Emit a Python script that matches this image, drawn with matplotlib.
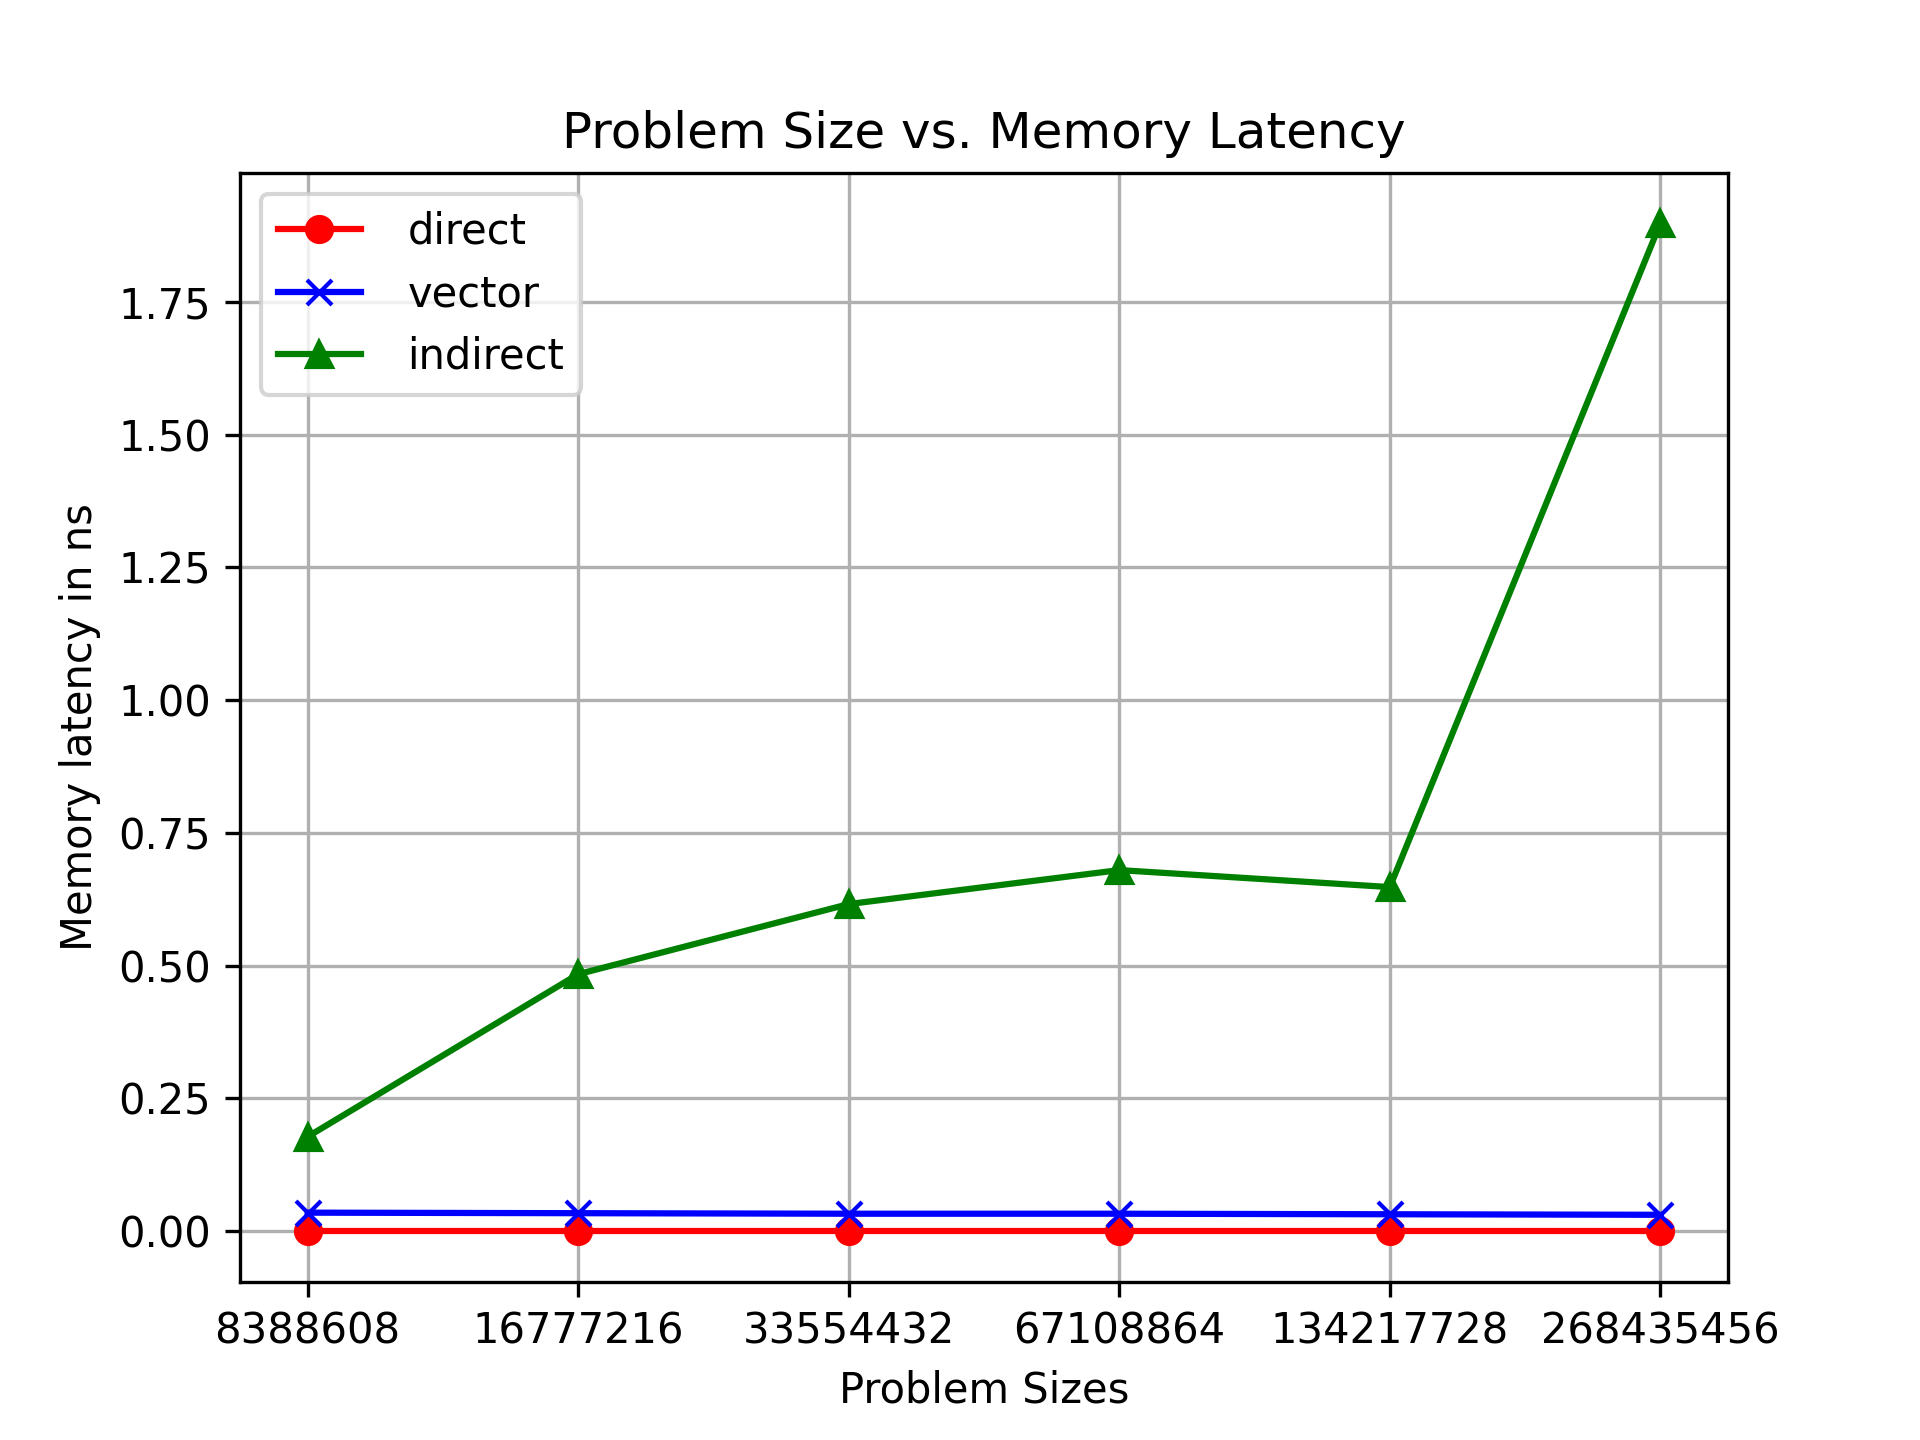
import matplotlib
matplotlib.use("Agg")
import matplotlib.pyplot as plt

sizes = ["8388608", "16777216", "33554432", "67108864", "134217728", "268435456"]
direct = [0.0001, 0.0001, 0.0001, 0.0001, 0.0001, 0.0001]
vector = [0.035, 0.034, 0.033, 0.033, 0.032, 0.031]
indirect = [0.178, 0.484, 0.616, 0.680, 0.648, 1.898]

fig, ax = plt.subplots(figsize=(6.4, 4.8), dpi=300)
ax.plot(sizes, direct, color="red", marker="o", label="direct")
ax.plot(sizes, vector, color="blue", marker="x", label="vector")
ax.plot(sizes, indirect, color="green", marker="^", label="indirect")
ax.set_title("Problem Size vs. Memory Latency")
ax.set_xlabel("Problem Sizes")
ax.set_ylabel("Memory latency in ns")
ax.grid(True)
ax.legend(loc="upper left", handletextpad=1.12)
fig.savefig("out.png", dpi=300)
